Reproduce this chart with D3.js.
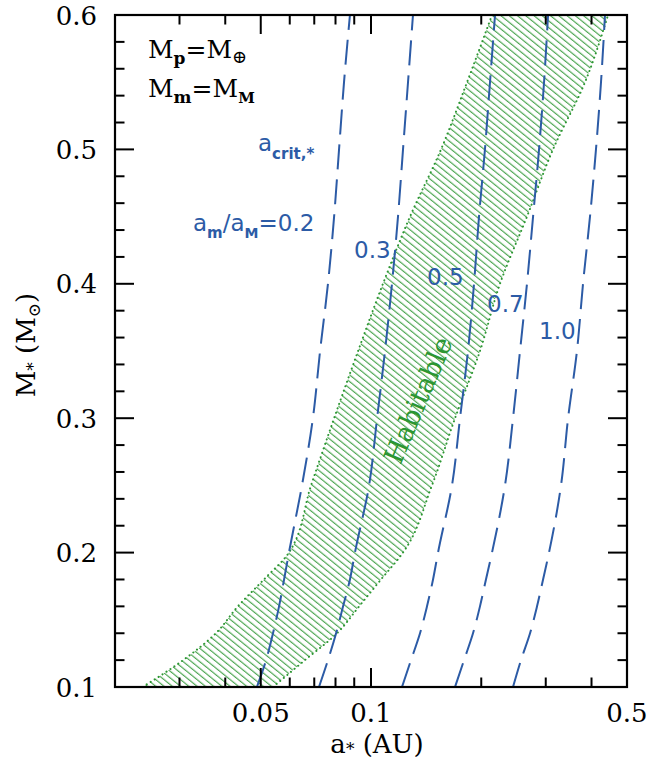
<!DOCTYPE html>
<html><head><meta charset="utf-8">
<script src="https://cdn.jsdelivr.net/npm/d3@7"></script>
<style>body{margin:0;background:#fff}svg{display:block}</style>
</head><body>
<svg id="chart" width="660" height="762"></svg>
<script>
// ---- data ----
const stellarMass = [0.1,0.12,0.14,0.16,0.18,0.2,0.25,0.3,0.35,0.4,0.45,0.5,0.55,0.6];
const ratioLabels = ["0.2","0.3","0.5","0.7","1.0"];
const acritRatio02 = [0.0488,0.0517,0.0540,0.0561,0.0579,0.0597,0.0648,0.0694,0.0726,0.0763,0.0793,0.0818,0.0844,0.0876];
const acritRatio03 = [0.0721,0.0763,0.0803,0.0839,0.0876,0.0904,0.0988,0.1039,0.1092,0.1141,0.1185,0.1223,0.1262,0.1302];
const acritRatio05 = [0.1215,0.1286,0.1361,0.1422,0.1477,0.1524,0.1664,0.1750,0.1840,0.1911,0.1972,0.2047,0.2113,0.2181];
const acritRatio07 = [0.1696,0.1795,0.1899,0.1984,0.2060,0.2140,0.2322,0.2442,0.2552,0.2666,0.2770,0.2876,0.2968,0.3044];
const acritRatio10 = [0.2442,0.2568,0.2718,0.2840,0.2950,0.3062,0.3302,0.3452,0.3650,0.3792,0.3962,0.4114,0.4246,0.4354];
const hzInner = [0.0238,0.0307,0.0377,0.0433,0.0510,0.0597,0.0686,0.0793,0.0922,0.1078,0.1278,0.1553,0.1829,0.2140];
const hzOuter = [0.0540,0.0660,0.0808,0.0928,0.1065,0.1223,0.1467,0.1696,0.1984,0.2250,0.2666,0.3140,0.3840,0.4438];
const xMinorTicks = [0.03,0.04,0.06,0.07,0.08,0.09,0.2,0.3,0.4];
const xMajorTicks = [0.05,0.1,0.5];
const xTickLabels = ["0.05","0.1","0.5"];
const yMajorTicks = [0.1,0.2,0.3,0.4,0.5,0.6];
const yTickLabels = ["0.1","0.2","0.3","0.4","0.5","0.6"];
const yMinorTicks = [0.12,0.14,0.16,0.18,0.22,0.24,0.26,0.28,0.32,0.34,0.36,0.38,0.42,0.44,0.46,0.48,0.52,0.54,0.56,0.58];

const curves = [acritRatio02, acritRatio03, acritRatio05, acritRatio07, acritRatio10];

// ---- layout ----
const L = 115, R = 627, T = 15, B = 687;
const BLUE = "#2c5ba6", GREEN = "#2c9632";
const serif = "'DejaVu Serif', 'Liberation Serif', serif";
const sans = "'DejaVu Sans', sans-serif";

const x = d3.scaleLog().domain([0.02, 0.5]).range([L, R]);
const y = d3.scaleLinear().domain([0.1, 0.6]).range([B, T]);

const svg = d3.select("#chart");
const defs = svg.append("defs");
defs.append("clipPath").attr("id","plotclip").append("rect")
  .attr("x", L).attr("y", T).attr("width", R-L).attr("height", B-T);
const pat = defs.append("pattern").attr("id","hatch")
  .attr("patternUnits","userSpaceOnUse").attr("width",5.2).attr("height",10)
  .attr("patternTransform","rotate(-51)");
pat.append("line").attr("x1",1.5).attr("y1",-1).attr("x2",1.5).attr("y2",11)
  .attr("stroke",GREEN).attr("stroke-width",1);

const plot = svg.append("g").attr("clip-path","url(#plotclip)");

// habitable zone
const inner = stellarMass.map((m,i)=>[hzInner[i], m]);
const outer = stellarMass.map((m,i)=>[hzOuter[i], m]);
const area = d3.area().y(d=>y(d.m)).x0(d=>x(d.a0)).x1(d=>x(d.a1)).curve(d3.curveMonotoneY);
const hzData = stellarMass.map((m,i)=>({m:m, a0:hzInner[i], a1:hzOuter[i]}));
plot.append("path").attr("d", area(hzData)).attr("fill","url(#hatch)").attr("stroke","none");
const edge = d3.line().x(d=>x(d[0])).y(d=>y(d[1])).curve(d3.curveMonotoneY);
[inner, outer].forEach(pts=>{
  plot.append("path").attr("d", edge(pts)).attr("fill","none")
    .attr("stroke",GREEN).attr("stroke-width",2).attr("stroke-linecap","round")
    .attr("stroke-dasharray","0.1,4.6");
});

// dashed critical curves
curves.forEach(vals=>{
  const pts = stellarMass.map((m,i)=>[vals[i], m]);
  plot.append("path").attr("d", edge(pts)).attr("fill","none")
    .attr("stroke",BLUE).attr("stroke-width",2).attr("stroke-dasharray","25,10");
});

// frame
svg.append("rect").attr("x",L).attr("y",T).attr("width",R-L).attr("height",B-T)
  .attr("fill","none").attr("stroke","#000").attr("stroke-width",2.2);

// ticks
const tk = svg.append("g").attr("stroke","#000").attr("stroke-width",2);
xMajorTicks.forEach(v=>{
  tk.append("line").attr("x1",x(v)).attr("x2",x(v)).attr("y1",B).attr("y2",B-19);
  tk.append("line").attr("x1",x(v)).attr("x2",x(v)).attr("y1",T).attr("y2",T+19);
});
xMinorTicks.forEach(v=>{
  tk.append("line").attr("x1",x(v)).attr("x2",x(v)).attr("y1",B).attr("y2",B-9.5);
  tk.append("line").attr("x1",x(v)).attr("x2",x(v)).attr("y1",T).attr("y2",T+9.5);
});
yMajorTicks.forEach(v=>{
  tk.append("line").attr("y1",y(v)).attr("y2",y(v)).attr("x1",L).attr("x2",L+19);
  tk.append("line").attr("y1",y(v)).attr("y2",y(v)).attr("x1",R).attr("x2",R-19);
});
yMinorTicks.forEach(v=>{
  tk.append("line").attr("y1",y(v)).attr("y2",y(v)).attr("x1",L).attr("x2",L+9.5);
  tk.append("line").attr("y1",y(v)).attr("y2",y(v)).attr("x1",R).attr("x2",R-9.5);
});

// tick labels
xMajorTicks.forEach((v,i)=>{
  svg.append("text").attr("x",x(v)).attr("y",722).attr("text-anchor","middle")
    .attr("font-family",serif).attr("font-size",26).attr("fill","#000").text(xTickLabels[i]);
});
yMajorTicks.forEach((v,i)=>{
  svg.append("text").attr("x",97).attr("y",y(v)+9.5).attr("text-anchor","end")
    .attr("font-family",serif).attr("font-size",26).attr("fill","#000").text(yTickLabels[i]);
});

// axis titles
const xt = svg.append("text").attr("x",377).attr("y",753).attr("text-anchor","middle")
  .attr("font-family",serif).attr("font-size",26).attr("fill","#000");
xt.append("tspan").text("a");
xt.append("tspan").attr("dy",2).attr("font-size",17).text("*");
xt.append("tspan").attr("dy",-2).text(" (AU)");

const yt = svg.append("text").attr("transform","translate(35,345) rotate(-90)")
  .attr("text-anchor","middle").attr("font-family",serif).attr("font-size",26).attr("fill","#000");
yt.append("tspan").text("M");
yt.append("tspan").attr("dy",4).attr("font-size",17).text("*");
yt.append("tspan").attr("dy",-4).text(" (M");
yt.append("tspan").attr("dy",5).attr("font-size",17).text("⊙");
yt.append("tspan").attr("dy",-5).text(")");

// top-left annotation
const a1 = svg.append("text").attr("x",148).attr("y",58).attr("font-family",serif)
  .attr("font-size",25).attr("fill","#000");
a1.append("tspan").text("M");
a1.append("tspan").attr("dy",6).attr("font-size",17).attr("font-weight","bold").text("p");
a1.append("tspan").attr("dy",-6).text("=M");
a1.append("tspan").attr("dy",5).attr("font-size",18).text("⊕");
const a2 = svg.append("text").attr("x",148).attr("y",97).attr("font-family",serif)
  .attr("font-size",25).attr("fill","#000");
a2.append("tspan").text("M");
a2.append("tspan").attr("dy",6).attr("font-size",17).attr("font-weight","bold").text("m");
a2.append("tspan").attr("dy",-6).text("=M");
a2.append("tspan").attr("dy",6).attr("font-size",15).attr("font-weight","bold").text("M");

// blue labels
const b1 = svg.append("text").attr("x",258).attr("y",151).attr("font-family",sans)
  .attr("font-size",23).attr("fill",BLUE);
b1.append("tspan").text("a");
b1.append("tspan").attr("dy",8).attr("font-size",15).attr("font-weight","bold").text("crit,*");
const b2 = svg.append("text").attr("x",193).attr("y",231).attr("font-family",sans)
  .attr("font-size",23).attr("fill",BLUE);
b2.append("tspan").text("a");
b2.append("tspan").attr("dy",7).attr("font-size",15).attr("font-weight","bold").text("m");
b2.append("tspan").attr("dy",-7).text("/a");
b2.append("tspan").attr("dy",7).attr("font-size",14).attr("font-weight","bold").text("M");
b2.append("tspan").attr("dy",-7).text("=" + ratioLabels[0]);
const rlPos = [[354,258],[427,285],[487,312],[539,339]];
ratioLabels.slice(1).forEach((t,i)=>{
  svg.append("text").attr("x",rlPos[i][0]).attr("y",rlPos[i][1]).attr("font-family",sans)
    .attr("font-size",23).attr("fill",BLUE).text(t);
});

// Habitable label
svg.append("text").attr("transform","translate(418,400) rotate(-67)")
  .attr("text-anchor","middle").attr("dominant-baseline","central")
  .attr("font-family",serif).attr("font-size",27).attr("fill",GREEN).text("Habitable");
</script>
</body></html>
